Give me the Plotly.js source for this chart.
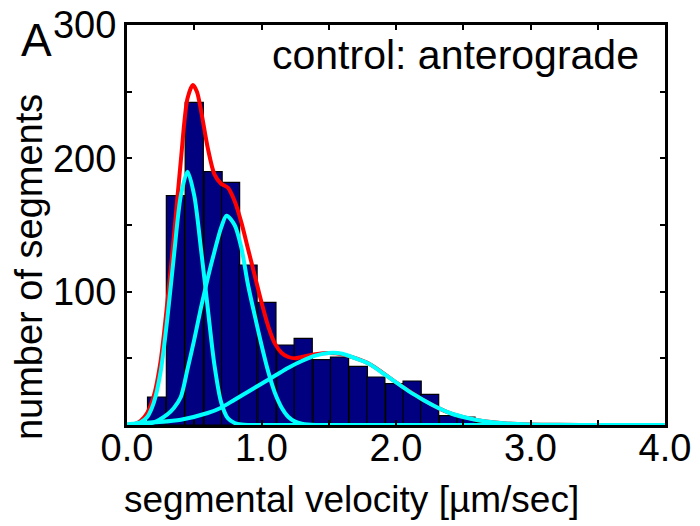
<!DOCTYPE html>
<html>
<head>
<meta charset="utf-8">
<script src="https://cdn.plot.ly/plotly-3.0.1.min.js"></script>
<style>html,body{margin:0;padding:0;background:#fff;}#chart{width:700px;height:526px;}</style>
</head>
<body>
<div id="chart"></div>
<script>
// Histogram (segmental velocity bins, µm/sec) and counts
const binCenters = [0.22, 0.36, 0.50, 0.64, 0.77, 0.90, 1.04, 1.18, 1.31, 1.45, 1.58, 1.72, 1.85, 1.99, 2.12, 2.25, 2.39, 2.52, 2.66, 2.79];
const binCounts  = [21, 172, 242, 190, 182, 120, 92, 60, 65, 49, 51, 44, 36, 31, 33, 23, 7, 6, 2, 1];
const binWidth = 0.135;

// Fitted component 1 (cyan)
const g1X = [0.00, 0.10, 0.15, 0.20, 0.25, 0.30, 0.35, 0.40, 0.45, 0.50, 0.55, 0.60, 0.65, 0.70, 0.75, 0.80, 0.85, 0.90, 1.50, 4.00];
const g1Y = [0, 2, 6, 17, 40, 80, 128, 172, 190, 172, 132, 88, 45, 17, 5, 1.5, 0.3, 0, 0, 0];

// Fitted component 2 (cyan)
const g2X = [0.00, 0.10, 0.20, 0.30, 0.35, 0.40, 0.45, 0.50, 0.55, 0.60, 0.65, 0.70, 0.74, 0.80, 0.85, 0.90, 0.95, 1.00, 1.05, 1.10, 1.15, 1.20, 1.25, 1.30, 1.40, 2.00, 4.00];
const g2Y = [0, 0.5, 2, 8, 13, 21, 42, 64, 88, 110, 130, 148, 157, 150, 133, 105, 82, 60, 40, 24, 13, 6, 2.5, 1, 0, 0, 0];

// Fitted component 3 (cyan)
const g3X = [0.00, 0.20, 0.40, 0.60, 0.70, 0.80, 0.90, 1.00, 1.10, 1.20, 1.30, 1.40, 1.50, 1.60, 1.70, 1.80, 1.90, 2.00, 2.10, 2.20, 2.30, 2.40, 2.50, 2.60, 2.70, 2.80, 3.00, 3.20, 3.50, 4.00];
const g3Y = [0.5, 2, 4, 9, 13, 19, 25, 31, 37, 43, 48, 52, 54, 53.5, 50, 46, 39, 32, 25, 19, 13.5, 9, 6, 3.8, 2.3, 1.3, 0.4, 0.1, 0, 0];

// Total fit (red)
const fitX = [0.00, 0.05, 0.10, 0.15, 0.20, 0.25, 0.30, 0.35, 0.40, 0.45, 0.49, 0.52, 0.55, 0.60, 0.65, 0.70, 0.75, 0.80, 0.85, 0.90, 0.95, 1.00, 1.05, 1.10, 1.15, 1.20, 1.25, 1.30, 1.40, 1.50, 1.60, 1.80, 2.00, 2.20, 2.40, 2.60, 2.80, 3.00, 3.20, 3.50, 4.00];
const fitY = [0, 0.5, 3, 9, 22, 48, 92, 143, 198, 245, 255, 250, 236, 208, 188, 181, 178, 168, 152, 132, 112, 92, 74, 61, 54, 51, 50, 51, 53, 54, 53, 46, 32, 19, 9, 3.8, 1.3, 0.4, 0.1, 0, 0];

const xTickVals = [0, 1, 2, 3, 4];
const xTickText = ['0.0', '1.0', '2.0', '3.0', '4.0'];
const yTickVals = [100, 200, 300];
const yTickText = ['100', '200', '300'];

const FONT = 'Liberation Sans, Arial, sans-serif';
const cyan = '#00FFFF';

const traces = [
  {type: 'bar', x: binCenters, y: binCounts, width: binWidth,
   marker: {color: '#000080', line: {color: '#000000', width: 1.2}}, hoverinfo: 'skip'},
  {type: 'scatter', mode: 'lines', x: fitX, y: fitY,
   line: {color: '#FF0000', width: 4, shape: 'spline', smoothing: 0.8}},
  {type: 'scatter', mode: 'lines', x: g1X, y: g1Y,
   line: {color: cyan, width: 4, shape: 'spline', smoothing: 0.8}},
  {type: 'scatter', mode: 'lines', x: g2X, y: g2Y,
   line: {color: cyan, width: 4, shape: 'spline', smoothing: 0.8}},
  {type: 'scatter', mode: 'lines', x: g3X, y: g3Y,
   line: {color: cyan, width: 4, shape: 'spline', smoothing: 0.8}}
];

const layout = {
  width: 700, height: 526,
  margin: {l: 127, r: 35, t: 25, b: 101},
  paper_bgcolor: '#ffffff', plot_bgcolor: '#ffffff',
  showlegend: false,
  bargap: 0,
  font: {family: FONT, color: '#000000'},
  xaxis: {
    range: [0, 4], showgrid: false, zeroline: false,
    showline: true, linecolor: '#000000', linewidth: 3, mirror: 'ticks',
    ticks: 'inside', ticklen: 5, tickwidth: 2, tickcolor: '#000000',
    tickvals: xTickVals, ticktext: xTickText, ticklabelstandoff: -13,
    tickfont: {family: FONT, size: 38, color: '#000000'},
    minor: {dtick: 0.5, ticks: 'inside', ticklen: 5, tickwidth: 2, tickcolor: '#000000'}
  },
  yaxis: {
    range: [0, 300], showgrid: false, zeroline: false,
    showline: true, linecolor: '#000000', linewidth: 3, mirror: 'ticks',
    ticks: 'inside', ticklen: 5, tickwidth: 2, tickcolor: '#000000',
    tickvals: yTickVals, ticktext: yTickText,
    tickfont: {family: FONT, size: 38, color: '#000000'},
    minor: {dtick: 50, ticks: 'inside', ticklen: 5, tickwidth: 2, tickcolor: '#000000'}
  },
  annotations: [
    {text: 'A', xref: 'paper', yref: 'paper', x: -0.169, y: 0.9625, xanchor: 'center', yanchor: 'middle',
     showarrow: false, font: {family: FONT, size: 46, color: '#000000'}},
    {text: 'control: anterograde', xref: 'paper', yref: 'paper', x: 0.955, y: 0.925, xanchor: 'right', yanchor: 'middle',
     showarrow: false, font: {family: FONT, size: 41, color: '#000000'}},
    {text: 'number of segments', xref: 'paper', yref: 'paper', x: -0.182, y: 0.395, xanchor: 'center', yanchor: 'middle',
     textangle: -90, showarrow: false, font: {family: FONT, size: 38, color: '#000000'}},
    {text: 'segmental velocity [µm/sec]', xref: 'paper', yref: 'paper', x: 0.418, y: -0.185, xanchor: 'center', yanchor: 'middle',
     showarrow: false, font: {family: FONT, size: 37, color: '#000000'}}
  ]
};

Plotly.newPlot('chart', traces, layout, {displayModeBar: false, staticPlot: true});
</script>
</body>
</html>
